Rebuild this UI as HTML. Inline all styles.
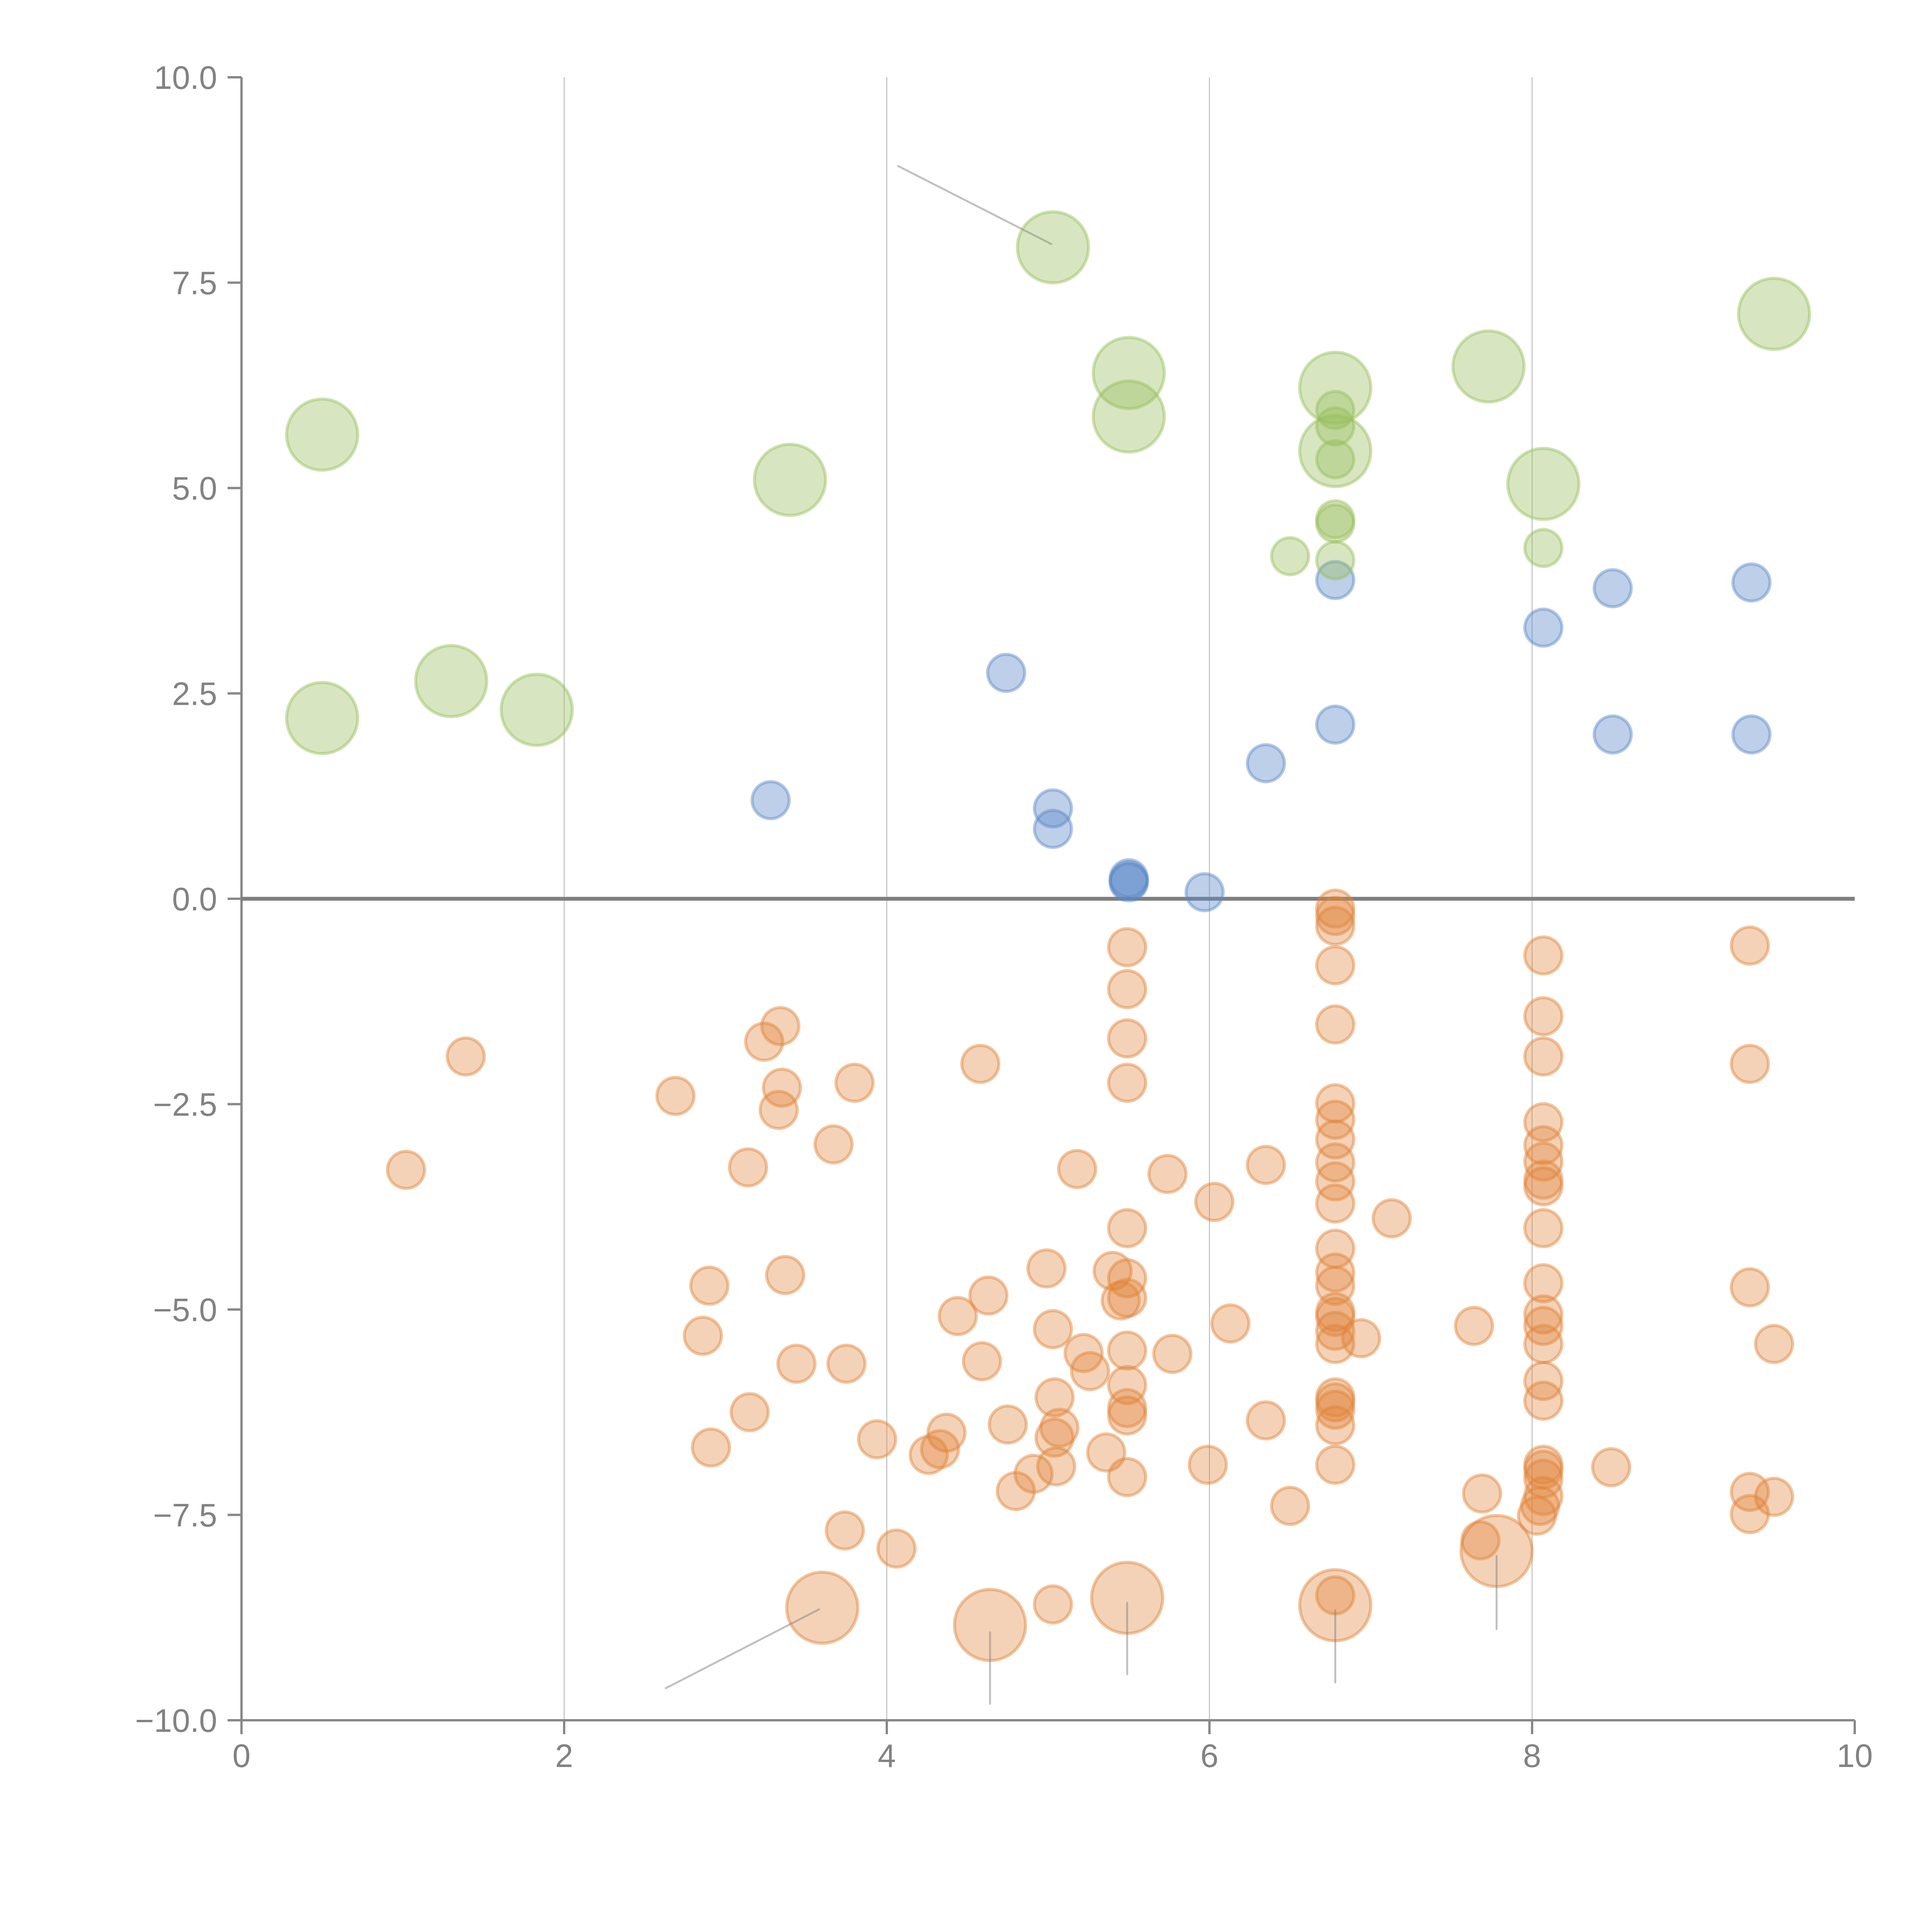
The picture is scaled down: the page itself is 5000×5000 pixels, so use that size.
<!DOCTYPE html>
<html><head><meta charset="utf-8"><style>html,body{margin:0;padding:0;background:#fff}svg{display:block}</style></head>
<body>
<svg id="chart" width="5000" height="5000" viewBox="0 0 5000 5000" xmlns="http://www.w3.org/2000/svg" font-family="Liberation Sans, sans-serif">
<g id="grid"></g>
<g id="axes"></g>
<g id="marks"></g>
<g id="leaders"></g>
</svg>
<script>
const xTicks = [0, 2, 4, 6, 8, 10];
const xTickLabels = ["0", "2", "4", "6", "8", "10"];
const yTicks = [10, 7.5, 5, 2.5, 0, -2.5, -5, -7.5, -10];
const yTickLabels = ["10.0", "7.5", "5.0", "2.5", "0.0", "\u22122.5", "\u22125.0", "\u22127.5", "\u221210.0"];

const greenLargeX = [0.5, 0.5, 1.3, 1.83, 3.4, 5.03, 5.5, 5.5, 6.78, 6.78, 7.73, 8.07, 9.5];
const greenLargeY = [5.65, 2.2, 2.65, 2.3, 5.1, 7.93, 6.4, 5.87, 6.22, 5.45, 6.48, 5.05, 7.12];
const greenSmallX = [6.78, 6.78, 6.78, 6.78, 6.78, 6.5, 6.78, 8.07];
const greenSmallY = [5.95, 5.75, 5.35, 4.62, 4.57, 4.17, 4.12, 4.27];
const blueX = [3.28, 4.74, 5.03, 5.03, 5.5, 5.5, 5.5, 5.97, 6.35, 6.78, 6.78, 8.07, 8.5, 8.5, 9.36, 9.36];
const blueY = [1.2, 2.75, 1.1, 0.85, 0.25, 0.2, 0.22, 0.08, 1.65, 2.12, 3.88, 3.3, 3.78, 2.0, 3.85, 2.0];
const orangeX = [1.39,1.02,2.69,3.24,3.34,3.35,3.33,3.14,3.80,3.67,2.90,2.86,3.37,3.44,3.75,3.15,2.91,3.94,3.74,4.06,4.26,4.33,4.37,4.44,4.63,4.59,4.75,4.80,4.91,5.05,5.03,4.99,5.04,5.07,5.04,5.03,4.58,5.18,5.22,5.26,5.36,5.40,5.49,5.49,5.49,5.49,5.49,5.49,5.45,5.49,5.49,5.49,5.49,5.49,5.49,5.74,5.77,5.99,6.03,6.13,6.35,6.35,6.50,6.78,6.78,6.78,6.78,6.78,6.78,6.78,6.78,6.78,6.78,6.78,6.78,6.78,6.78,6.78,6.78,6.78,6.78,6.78,6.78,6.78,6.78,6.78,6.78,6.94,7.13,7.64,7.69,7.68,8.07,8.07,8.07,8.07,8.07,8.07,8.07,8.07,8.07,8.07,8.07,8.07,8.07,8.07,8.07,8.07,8.07,8.07,8.07,8.05,8.03,8.49,9.35,9.35,9.35,9.50,9.35,9.35,9.50];
const orangeY = [-1.92,-3.30,-2.40,-1.74,-1.55,-2.30,-2.57,-3.27,-2.24,-2.99,-4.71,-5.32,-4.58,-5.66,-5.66,-6.25,-6.68,-6.58,-7.69,-7.91,-6.77,-6.70,-6.50,-5.08,-4.83,-5.63,-6.40,-7.21,-7.00,-6.91,-5.24,-4.50,-6.07,-6.44,-6.56,-8.59,-2.01,-3.29,-5.53,-5.75,-6.74,-4.53,-0.59,-1.10,-1.70,-2.24,-4.01,-4.62,-4.89,-4.86,-5.50,-5.92,-6.20,-6.29,-7.04,-3.35,-5.54,-6.89,-3.69,-5.17,-3.24,-6.35,-7.39,-0.12,-0.21,-0.33,-0.81,-1.53,-2.49,-2.69,-2.93,-3.21,-3.44,-3.71,-4.26,-4.55,-4.71,-5.03,-5.09,-5.26,-5.42,-6.07,-6.13,-6.22,-6.41,-6.89,-8.48,-5.35,-3.89,-5.20,-7.24,-7.81,-0.69,-1.43,-1.92,-2.72,-3.00,-3.20,-3.42,-3.50,-4.01,-4.68,-5.06,-5.20,-5.42,-5.87,-6.11,-6.89,-6.95,-7.06,-7.27,-7.39,-7.51,-6.92,-0.57,-2.01,-4.73,-5.42,-7.22,-7.49,-7.28];
const orangeLargeX = [3.60, 4.64, 5.49, 6.78, 7.78];
const orangeLargeY = [-8.63, -8.84, -8.51, -8.60, -7.94];
const leaderX1 = [4.07, 2.63, 4.64, 5.49, 6.78, 7.78];
const leaderY1 = [8.92, -9.61, -9.80, -9.44, -9.54, -8.89];
const leaderX2 = [5.02, 3.58, 4.64, 5.49, 6.78, 7.78];
const leaderY2 = [7.97, -8.65, -8.93, -8.57, -8.66, -8.00];

const NS = "http://www.w3.org/2000/svg";
const X0 = 625, X1 = 4800, Y0 = 4452, Y1 = 200;
function sx(v){ return X0 + (v - 0) / 10 * (X1 - X0); }
function sy(v){ return Y0 - (v + 10) / 20 * (Y0 - Y1); }
function mk(tag, attrs, parent){
  const e = document.createElementNS(NS, tag);
  for (const k in attrs) e.setAttribute(k, attrs[k]);
  parent.appendChild(e);
  return e;
}
const grid = document.getElementById('grid');
const axes = document.getElementById('axes');
const marks = document.getElementById('marks');
const leaders = document.getElementById('leaders');

xTicks.forEach((t, i) => {
  if (t > 0 && t < 10) {
    const g = mk('line', {x1: sx(t), x2: sx(t), y1: Y1, y2: Y0, stroke: '#b0b0b0', 'stroke-width': 2}, grid);
    
    
  }
  const tk = mk('line', {x1: sx(t), x2: sx(t), y1: Y0, y2: Y0 + 36, stroke: '#888', 'stroke-width': 6}, axes);
  
  
  const tx = mk('text', {x: sx(t), y: 4573, 'text-anchor': 'middle', 'font-size': 84, fill: '#828282'}, axes);
  tx.textContent = xTickLabels[i];
  
  
});
yTicks.forEach((t, i) => {
  const tk = mk('line', {x1: X0 - 36, x2: X0, y1: sy(t), y2: sy(t), stroke: '#888', 'stroke-width': 6}, axes);
  
  
  const tx = mk('text', {x: 562, y: sy(t) + 30, 'text-anchor': 'end', 'font-size': 84, fill: '#828282'}, axes);
  tx.textContent = yTickLabels[i];
  
  
});
const ya = mk('line', {x1: X0, x2: X0, y1: Y1, y2: Y0, stroke: '#888', 'stroke-width': 6}, axes);


const xa = mk('line', {x1: X0, x2: X1, y1: Y0, y2: Y0, stroke: '#888', 'stroke-width': 6}, axes);



function bubbles(xs, ys, r, fill, stroke, name){
  xs.forEach((x, i) => {
    const c = mk('circle', {cx: sx(x), cy: sy(ys[i]), r: r, fill: fill, stroke: stroke, 'stroke-width': 8}, marks);
    
    
  });
}
bubbles(orangeX, orangeY, 48, 'rgba(225,130,55,0.36)', 'rgba(225,130,55,0.45)', 'orange-bubble');
bubbles(orangeLargeX, orangeLargeY, 92, 'rgba(225,130,55,0.36)', 'rgba(225,130,55,0.45)', 'orange-large-bubble');
bubbles(blueX, blueY, 48, 'rgba(90,135,200,0.4)', 'rgba(90,135,200,0.45)', 'blue-bubble');
bubbles(greenLargeX, greenLargeY, 92, 'rgba(150,190,90,0.38)', 'rgba(150,190,90,0.45)', 'green-large-bubble');
bubbles(greenSmallX, greenSmallY, 48, 'rgba(150,190,90,0.38)', 'rgba(150,190,90,0.45)', 'green-bubble');

const zl = mk('line', {x1: X0, x2: X1, y1: sy(0), y2: sy(0), stroke: '#808080', 'stroke-width': 10}, axes);



leaderX1.forEach((x, i) => {
  const l = mk('line', {x1: sx(x), y1: sy(leaderY1[i]), x2: sx(leaderX2[i]), y2: sy(leaderY2[i]), stroke: 'rgba(130,130,130,0.5)', 'stroke-width': 5, 'stroke-linecap': 'round'}, leaders);
  
  
});
</script>
</body></html>
